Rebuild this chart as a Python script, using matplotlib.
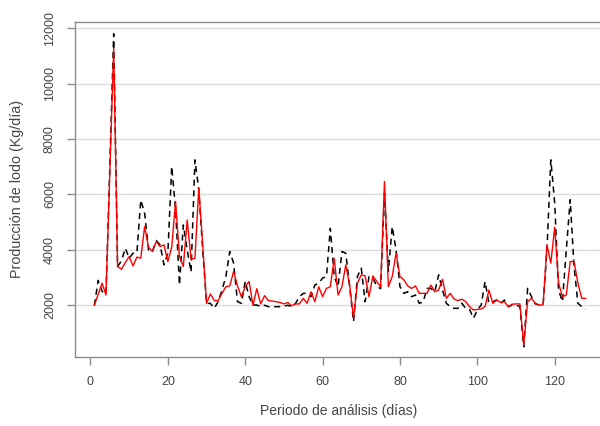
import numpy as np
import matplotlib
matplotlib.use('Agg')
import matplotlib.pyplot as plt

# data (one value per day, 128 days)
dias = np.arange(1, 129)

# black dashed series
lodo_observado = [
    2000, 2900, 2500, 2400, 7000, 11800, 3400, 3600, 4060, 3700,
    3880, 3900, 5800, 5320, 4000, 3940, 4340, 4180, 3460, 3880,
    7010, 5450, 2730, 4900, 4000, 3200, 7250, 6170, 4000, 2070,
    2070, 1890, 2130, 2550, 3040, 3940, 3520, 2130, 2070, 2860,
    2310, 2010, 2010, 1950, 2000, 1950, 1950, 1950, 1950, 1970,
    2000, 1950, 2070, 2310, 2430, 2430, 2310, 2730, 2800, 2980,
    3040, 4780, 3040, 2670, 3940, 3880, 2670, 1410, 3040, 3340,
    2130, 3040, 2980, 2700, 2600, 6050, 3220, 4840, 4000, 2670,
    2430, 2490, 2310, 2370, 2070, 2130, 2610, 2610, 2490, 3100,
    2550, 2070, 1950, 1890, 1890, 2070, 1890, 1850, 1530, 1830,
    2010, 2860, 2070, 2130, 2190, 2070, 2190, 1950, 2010, 2010,
    1950, 500, 2610, 2310, 2050, 2010, 2010, 4000, 7250, 5690,
    2550, 2130, 4000, 5810, 3400, 2070, 1950, 1860,
]

# red solid series
lodo_estimado = [
    2000, 2400, 2800, 2370, 6800, 11280, 3400, 3300, 3540, 3760,
    3420, 3740, 3700, 4840, 4100, 3940, 4300, 4120, 4180, 3580,
    4100, 5750, 3760, 3400, 5080, 3660, 3700, 6230, 4200, 2070,
    2410, 2170, 2170, 2430, 2670, 2700, 3220, 2700, 2310, 2670,
    2860, 2000, 2600, 2050, 2350, 2170, 2150, 2130, 2100, 2050,
    2100, 1980, 2050, 2050, 2250, 2070, 2490, 2130, 2670, 2310,
    2610, 2670, 3700, 2370, 2670, 3460, 2730, 1530, 2800, 3100,
    3060, 2310, 3060, 2860, 2670, 6470, 2670, 3040, 3880, 3040,
    2920, 2700, 2610, 2700, 2430, 2430, 2430, 2730, 2490, 2550,
    2940, 2250, 2430, 2220, 2170, 2220, 2130, 1950, 1830, 1850,
    1870, 1950, 2550, 2070, 2190, 2100, 2130, 1950, 2040, 2050,
    2050, 570, 2130, 2250, 2070, 2010, 2010, 4180, 3520, 4820,
    2800, 2310, 2370, 3580, 3580, 2800, 2250, 2250,
]

x_ticks = [0, 20, 40, 60, 80, 100, 120]
y_ticks = [2000, 4000, 6000, 8000, 10000, 12000]


def main():
    plt.rcParams['font.family'] = ['Liberation Sans', 'DejaVu Sans']
    text_col = '#444444'
    axis_col = '#8c8c8c'

    fig = plt.figure(figsize=(6, 4.26), dpi=100)
    # box runs a little past the right edge, like the cropped original
    ax = fig.add_axes([74.7 / 600, 1 - 357 / 426, 530.6 / 600, 335.3 / 426])

    # horizontal grid only
    for v in y_ticks:
        ax.axhline(v, color='#dcdcdc', lw=1.0, zorder=0)

    ax.plot(dias, lodo_observado, color='black', lw=1.1,
            linestyle=(0, (4, 3)), zorder=2)
    ax.plot(dias, lodo_estimado, color='#ff0000', lw=1.0, zorder=3)

    ax.set_xlim(-4.08, 133.08)
    ax.set_ylim(133, 12238)
    ax.set_xticks(x_ticks)
    ax.set_yticks(y_ticks)
    ax.set_yticklabels([str(v) for v in y_ticks], rotation=90, va='center')

    for s in ['left', 'bottom', 'top']:
        ax.spines[s].set_color(axis_col)
        ax.spines[s].set_linewidth(1.0)
    ax.spines['right'].set_visible(False)

    ax.tick_params(axis='both', direction='out', length=5.5, width=1.0,
                   color=axis_col, labelcolor=text_col, labelsize=9, pad=8)

    fig.text(339 / 600, 1 - 411 / 426, 'Periodo de análisis (días)',
             ha='center', va='center', fontsize=10, color=text_col)
    fig.text(17 / 600, 1 - 189 / 426, 'Producción de lodo (Kg/día)',
             ha='center', va='center', rotation=90, fontsize=10.3, color=text_col)

    plt.savefig('out.png', dpi=100)


if __name__ == '__main__':
    main()
